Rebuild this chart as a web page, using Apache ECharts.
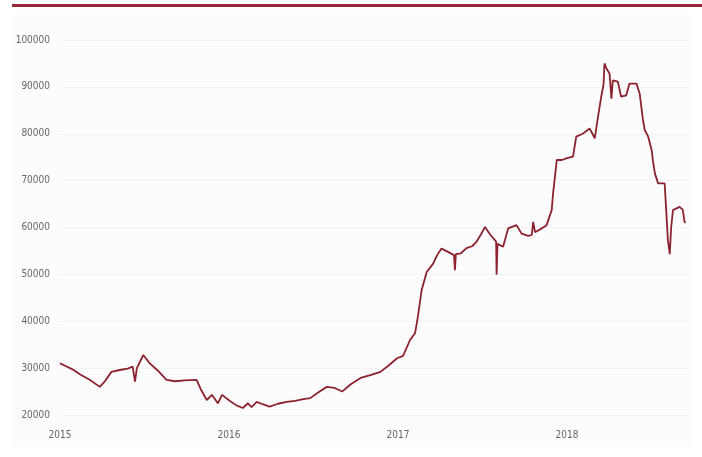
<!DOCTYPE html>
<html>
<head>
<meta charset="utf-8">
<script src="https://cdn.jsdelivr.net/npm/echarts@6/dist/echarts.min.js"></script>
<style>
  html, body { margin: 0; padding: 0; background: #fff; }
  #chart { width: 702px; height: 457px; }
</style>
</head>
<body>
<div id="chart"></div>
<script>
var dates = [
  '2015-01-01','2015-01-12','2015-01-27','2015-02-13','2015-03-06','2015-03-28','2015-04-08','2015-04-22',
  '2015-05-10','2015-05-27','2015-06-07','2015-06-12','2015-06-16','2015-06-30','2015-07-14','2015-07-31',
  '2015-08-19','2015-09-06','2015-09-28','2015-10-23','2015-11-01','2015-11-14','2015-11-25','2015-12-08',
  '2015-12-17','2016-01-03','2016-01-18','2016-01-31','2016-02-11','2016-02-19','2016-03-01','2016-03-14',
  '2016-03-29','2016-04-16','2016-05-05','2016-05-23','2016-06-10','2016-06-25','2016-07-12','2016-07-31',
  '2016-08-16','2016-09-02','2016-09-20','2016-10-12','2016-11-02','2016-11-24','2016-12-11','2016-12-30',
  '2017-01-12','2017-01-27','2017-02-07','2017-02-13','2017-02-21','2017-03-04','2017-03-18','2017-03-26',
  '2017-04-05','2017-04-19','2017-05-02','2017-05-04','2017-05-06','2017-05-17','2017-05-29','2017-06-10',
  '2017-06-20','2017-06-29','2017-07-08','2017-07-19','2017-08-01','2017-08-02','2017-08-04','2017-08-16',
  '2017-08-27','2017-09-14','2017-09-25','2017-10-09','2017-10-17','2017-10-20','2017-10-24','2017-11-04',
  '2017-11-18','2017-11-29','2017-12-02','2017-12-10','2017-12-21','2018-01-01','2018-01-14','2018-01-21',
  '2018-02-04','2018-02-19','2018-02-25','2018-03-02','2018-03-05','2018-03-09','2018-03-16','2018-03-21',
  '2018-03-23','2018-03-27','2018-04-03','2018-04-07','2018-04-10','2018-04-21','2018-04-28','2018-05-09',
  '2018-05-16','2018-05-31','2018-06-07','2018-06-14','2018-06-18','2018-06-25','2018-07-03','2018-07-06',
  '2018-07-10','2018-07-17','2018-07-31','2018-08-07','2018-08-11','2018-08-14','2018-08-18','2018-09-01',
  '2018-09-08','2018-09-12','2018-09-14'
];
var prices = [
  31000,30500,29800,28700,27500,26000,27200,29200,
  29600,29900,30300,27100,30000,32800,31000,29500,
  27500,27200,27400,27500,25500,23200,24300,22500,
  24300,23000,22000,21500,22500,21700,22800,22300,
  21800,22400,22800,23000,23400,23600,24800,26000,
  25800,25000,26500,27900,28500,29200,30500,32100,
  32600,36000,37500,41000,46600,50500,52300,54000,
  55500,54800,54100,50900,54300,54500,55600,56000,
  57000,58500,60100,58500,57000,49900,56500,55900,
  59800,60500,58700,58200,58400,61200,59000,59600,
  60500,63700,67300,74400,74400,74800,75100,79400,
  80000,81100,80000,79000,81000,83600,87900,90500,
  95000,94000,92800,87500,91400,91100,87900,88200,
  90700,90700,88600,83000,80800,79500,76500,74000,
  71500,69400,69400,57300,54300,60000,63700,64400,
  63800,61200,61000
];
var yTicks = [20000, 30000, 40000, 50000, 60000, 70000, 80000, 90000, 100000];
var xYears = [2015, 2016, 2017, 2018];

// date string -> fractional year, so the axis can tick on whole years
function toYear(s) {
  var p = s.split('-').map(Number);
  var start = Date.UTC(p[0], 0, 1), end = Date.UTC(p[0] + 1, 0, 1);
  return p[0] + (Date.UTC(p[0], p[1] - 1, p[2]) - start) / (end - start);
}

var seriesData = dates.map(function (d, i) { return [toYear(d), prices[i]]; });

var labelFont = '"DejaVu Sans Condensed", "Liberation Sans", sans-serif';

var chart = echarts.init(document.getElementById('chart'), null, {renderer: 'canvas'});
chart.setOption({
  backgroundColor: '#ffffff',
  animation: false,
  graphic: [
    { type: 'rect', z: -10, shape: {x: 12, y: 14, width: 680, height: 432}, style: {fill: '#fcfcfc'} },
    { type: 'rect', shape: {x: 12, y: 4, width: 690, height: 3}, style: {fill: '#992a35'} }
  ],
  grid: { left: 60, right: 12, top: 40, bottom: 42 },
  xAxis: {
    type: 'value',
    min: xYears[0],
    max: 2018.728,
    interval: 1,
    axisLine: {show: false},
    axisTick: {show: false},
    splitLine: {show: false},
    axisLabel: {
      color: '#666',
      fontSize: 10,
      fontFamily: labelFont,
      margin: 15,
      showMaxLabel: false,
      formatter: function (v) { return xYears.indexOf(v) >= 0 ? String(v) : ''; }
    }
  },
  yAxis: {
    type: 'value',
    min: yTicks[0],
    max: yTicks[yTicks.length - 1],
    interval: 10000,
    axisLine: {show: false},
    axisTick: {show: false},
    splitLine: {show: true, lineStyle: {color: '#f3f3f3', width: 1}},
    axisLabel: {
      color: '#666',
      fontSize: 10,
      fontFamily: labelFont,
      margin: 10,
      formatter: function (v) { return String(v); }
    }
  },
  series: [{
    type: 'line',
    data: seriesData,
    showSymbol: false,
    lineStyle: {color: '#8c2230', width: 1.8},
    itemStyle: {color: '#8c2230'}
  }]
});
</script>
</body>
</html>
